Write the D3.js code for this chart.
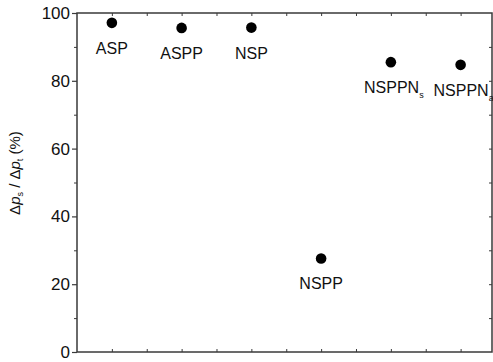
<!DOCTYPE html>
<html><head><meta charset="utf-8">
<script src="https://cdn.jsdelivr.net/npm/d3@7"></script>
<style>body{margin:0;background:#fff}svg{display:block}text{font-family:"Liberation Sans",Arial,sans-serif}</style>
</head><body><svg id="c" width="493" height="362"></svg>
<script>
const names = ["ASP","ASPP","NSP","NSPP","NSPPN","NSPPN"];
const subs = ["","","","","s","a"];
const xpos = [1,3,5,7,9,11];
const values = [97.1,95.6,95.7,27.6,85.5,84.7];
const yTicks = [0,20,40,60,80,100];

const svg = d3.select("#c");
const m = {l:77, t:13, r:492, b:352};
const x = d3.scaleLinear().domain([0,11.9]).range([m.l,m.r]);
const y = d3.scaleLinear().domain([0,100]).range([m.b,m.t]);
const col = "#3a3a3a";

// frame
svg.append("rect").attr("x",m.l).attr("y",m.t).attr("width",m.r-m.l).attr("height",m.b-m.t)
  .attr("fill","none").attr("stroke",col).attr("stroke-width",1.5);

// left axis major
const ax = svg.append("g").attr("transform",`translate(${m.l},0)`)
  .call(d3.axisLeft(y).tickValues(yTicks).tickSize(5).tickPadding(2).tickFormat(d3.format("d")));
ax.select(".domain").remove();
ax.selectAll("line").attr("stroke",col).attr("stroke-width",1.2);
ax.selectAll("text").attr("font-size",17).attr("fill","#111");
// left minor
const minor = d3.range(10,100,20);
svg.append("g").attr("transform",`translate(${m.l},0)`)
  .call(d3.axisLeft(y).tickValues(minor).tickSize(3).tickFormat(""))
  .call(g=>{g.select(".domain").remove();g.selectAll("line").attr("stroke",col);});
// right axis ticks inward
svg.append("g").attr("transform",`translate(${m.r},0)`)
  .call(d3.axisLeft(y).tickValues(d3.range(10,100,10)).tickSize(3).tickFormat(""))
  .call(g=>{g.select(".domain").remove();g.selectAll("line").attr("stroke",col);});
// bottom & top ticks inward
const xt = d3.range(1,12,1);
svg.append("g").attr("transform",`translate(0,${m.b})`)
  .call(d3.axisTop(x).tickValues(xt).tickSize(3).tickFormat(""))
  .call(g=>{g.select(".domain").remove();g.selectAll("line").attr("stroke",col);});
svg.append("g").attr("transform",`translate(0,${m.t})`)
  .call(d3.axisBottom(x).tickValues(xt).tickSize(3).tickFormat(""))
  .call(g=>{g.select(".domain").remove();g.selectAll("line").attr("stroke",col);});

// points
const data = names.map((n,i)=>({n, s:subs[i], x:xpos[i], v:values[i]}));
svg.selectAll("circle.p").data(data).join("circle")
  .attr("cx",d=>x(d.x)).attr("cy",d=>y(d.v)).attr("r",5.3).attr("fill","#000");

// labels
const lab = svg.selectAll("text.l").data(data).join("text")
  .attr("x",d=>x(d.x)+(d.s?3:0)).attr("y",d=>y(d.v)+31)
  .attr("text-anchor","middle").attr("font-size",16).attr("fill","#111");
lab.append("tspan").text(d=>d.n);
lab.filter(d=>d.s).append("tspan").attr("font-size",9).attr("dy",5).text(d=>d.s);

// y label
const yl = svg.append("text").attr("transform","translate(20,173) rotate(-90)")
  .attr("text-anchor","middle").attr("font-size",15).attr("fill","#111");
yl.append("tspan").text("Δ");
yl.append("tspan").attr("font-style","italic").text("p");
yl.append("tspan").attr("font-size",9).attr("dy",3).text("s");
yl.append("tspan").attr("dy",-3).text(" / Δ");
yl.append("tspan").attr("font-style","italic").text("p");
yl.append("tspan").attr("font-size",9).attr("dy",3).text("t");
yl.append("tspan").attr("dy",-3).text(" (%)");
</script></body></html>
